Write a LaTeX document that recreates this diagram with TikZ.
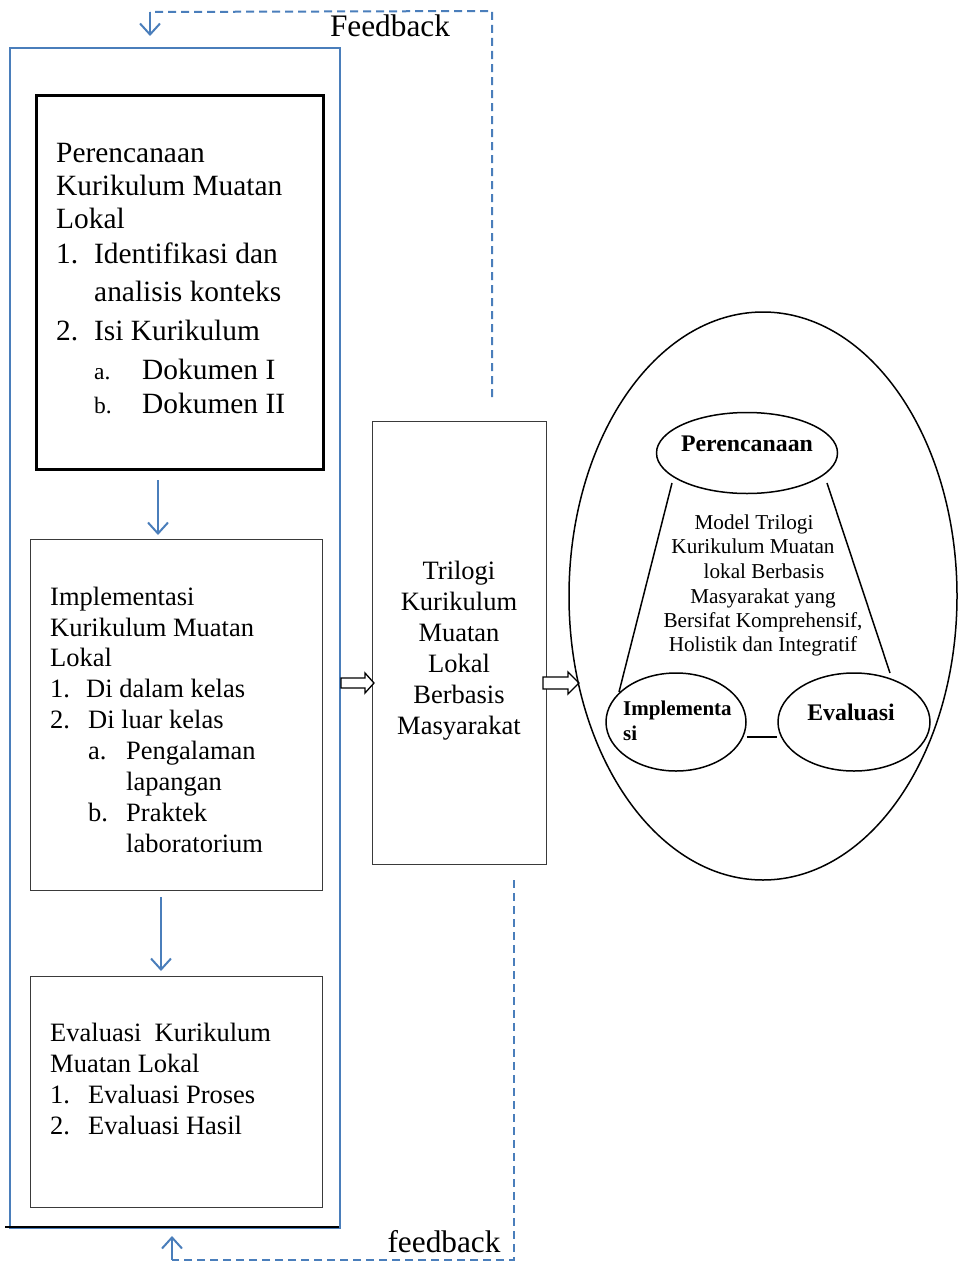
\documentclass[tikz,border=0pt]{standalone}
\usepackage{fontspec}
\setmainfont{Liberation Serif}
\usetikzlibrary{arrows.meta,shapes.geometric}
\definecolor{wblue}{HTML}{4A7EBB}
\definecolor{dgray}{HTML}{3A3A3A}
\tikzset{
  bluebox/.style={draw=wblue, line width=1.6pt},
  fbline/.style={draw=wblue, line width=2pt, dash pattern=on 8pt off 5pt},
  bluearrow/.style={draw=wblue, line width=2pt, -{Straight Barb[length=11pt,width=20pt]}},
  thinbox/.style={draw=dgray, line width=1.3pt, inner sep=0, anchor=north west},
  hollow/.style={draw=black, line width=1.3pt, fill=white},
  ell/.style={draw=black, line width=1.5pt, ellipse, inner sep=0},
  tA/.style={anchor=base west, inner sep=0, font=\fontsize{29.4}{33}\selectfont},
  tB/.style={anchor=base west, inner sep=0, font=\fontsize{26.5}{31}\selectfont},
  tS/.style={anchor=base west, inner sep=0, font=\fontsize{23.5}{28}\selectfont},
  tC/.style={anchor=base, inner sep=0, font=\fontsize{26.5}{31}\selectfont},
  tF/.style={anchor=base, inner sep=0, font=\fontsize{31.3}{34}\selectfont},
  tM/.style={anchor=base, inner sep=0, font=\fontsize{21.2}{24.5}\selectfont},
  tBold/.style={inner sep=0, font=\fontsize{23.8}{25}\selectfont\bfseries},
}
\begin{document}
\begin{tikzpicture}[x=1pt,y=-1pt]
\useasboundingbox (0,0) rectangle (965,1263);

% outer blue frame
\node[bluebox, inner sep=0, anchor=north west, minimum width=330, minimum height=1180] (outer) at (9,47) {};
\coordinate (obl) at (5,1227);
\coordinate (obr) at (339,1227);
\draw[black, line width=1.6pt] (obl) -- (obr);

% box 1
\node[draw=black, line width=3pt, inner sep=0, anchor=north west, minimum width=287, minimum height=374] (b1) at (35,94) {};
\node[tA] (p1) at (56,162) {Perencanaan};
\node[tA] (p2) at (56,195) {Kurikulum Muatan};
\node[tA] (p3) at (56,228) {Lokal};
\node[tA] (p4n) at (56,263) {1.};
\node[tA] (p4) at (94,263) {Identifikasi dan};
\node[tA] (p5) at (94,301) {analisis konteks};
\node[tA] (p6n) at (56,340) {2.};
\node[tA] (p6) at (94,340) {Isi Kurikulum};
\node[tS] (p7n) at (94,379) {a.};
\node[tA] (p7) at (142,379) {Dokumen I};
\node[tS] (p8n) at (94,413) {b.};
\node[tA] (p8) at (142,413) {Dokumen II};

% arrow 1
\coordinate (a1s) at (158,480);
\coordinate (a1e) at (158,535);
\draw[bluearrow] (a1s) -- (a1e);

% box 2
\node[thinbox, minimum width=292, minimum height=351] (b2) at (30,539) {};
\node[tB] (i1) at (50,605) {Implementasi};
\node[tB] (i2) at (50,636) {Kurikulum Muatan};
\node[tB] (i3) at (50,666) {Lokal};
\node[tB] (i4n) at (50,697) {1.};
\node[tB] (i4) at (86,697) {Di dalam kelas};
\node[tB] (i5n) at (50,728) {2.};
\node[tB] (i5) at (88,728) {Di luar kelas};
\node[tB] (i6n) at (88,759) {a.};
\node[tB] (i6) at (126,759) {Pengalaman};
\node[tB] (i7) at (126,790) {lapangan};
\node[tB] (i8n) at (88,821) {b.};
\node[tB] (i8) at (126,821) {Praktek};
\node[tB] (i9) at (126,852) {laboratorium};

% arrow 2
\coordinate (a2s) at (161,897);
\coordinate (a2e) at (161,971);
\draw[bluearrow] (a2s) -- (a2e);

% box 3
\node[thinbox, minimum width=292, minimum height=231] (b3) at (30,976) {};
\node[tB] (e1) at (50,1041) {Evaluasi\ \ Kurikulum};
\node[tB] (e2) at (50,1072) {Muatan Lokal};
\node[tB] (e3n) at (50,1103) {1.};
\node[tB] (e3) at (88,1103) {Evaluasi Proses};
\node[tB] (e4n) at (50,1134) {2.};
\node[tB] (e4) at (88,1134) {Evaluasi Hasil};

% trilogi box
\node[thinbox, minimum width=174, minimum height=443] (tri) at (372,421) {};
\node[tC] (c1) at (459,579) {Trilogi};
\node[tC] (c2) at (459,610) {Kurikulum};
\node[tC] (c3) at (459,641) {Muatan};
\node[tC] (c4) at (459,672) {Lokal};
\node[tC] (c5) at (459,703) {Berbasis};
\node[tC] (c6) at (459,734) {Masyarakat};

% hollow block arrows
\draw[hollow] (341,678) -- (365,678) -- (365,673) -- (374,683) -- (365,693) -- (365,688) -- (341,688) -- cycle;
\draw[hollow] (543,677) -- (568,677) -- (568,672) -- (579,683) -- (568,694) -- (568,689) -- (543,689) -- cycle;

% big ellipse and trilogy model
\node[ell, minimum width=388, minimum height=568] (big) at (763,596) {};
\node[ell, minimum width=181, minimum height=81] (ePer) at (747,453) {};
\node[ell, minimum width=140, minimum height=98] (eImp) at (676,722) {};
\node[ell, minimum width=152, minimum height=98] (eEva) at (854,722) {};
\node[tBold, anchor=base] (lPer) at (747,451) {Perencanaan};
\node[tBold, anchor=base] (lEva) at (851,720) {Evaluasi};
\node[tBold, anchor=base west, font=\fontsize{21}{25}\selectfont\bfseries] (lImp1) at (623,715) {Implementa};
\node[tBold, anchor=base west, font=\fontsize{21}{25}\selectfont\bfseries] (lImp2) at (623,740) {si};
\coordinate (l1a) at (672,483);
\coordinate (l1b) at (619,692);
\coordinate (l2a) at (827,483);
\coordinate (l2b) at (890,673);
\draw[line width=1.5pt] (l1a) -- (l1b);
\draw[line width=1.5pt] (l2a) -- (l2b);
\draw[line width=1.5pt] (eImp.east |- 0,737) -- (eEva.west |- 0,737);
\node[tM] (m1) at (754,529) {Model Trilogi};
\node[tM] (m2) at (753,553) {Kurikulum Muatan};
\node[tM] (m3) at (764,578) {lokal Berbasis};
\node[tM] (m4) at (763,603) {Masyarakat yang};
\node[tM] (m5) at (763,627) {Bersifat Komprehensif,};
\node[tM] (m6) at (763,651) {Holistik dan Integratif};

% feedback loops
\coordinate (f1a) at (492,397);
\coordinate (f1b) at (492,11);
\coordinate (f1c) at (150,12);
\coordinate (f1d) at (150,36);
\draw[fbline] (f1a) -- (f1b) -- (f1c);
\draw[bluearrow] (f1c) -- (f1d);
\node[tF] (fb1) at (390,37) {Feedback};

\coordinate (f2a) at (514,880);
\coordinate (f2b) at (514,1260);
\coordinate (f2c) at (172,1260);
\coordinate (f2d) at (172,1236);
\draw[fbline] (f2a) -- (f2b) -- (f2c);
\draw[bluearrow] (f2c) -- (f2d);
\node[tF] (fb2) at (444,1252) {feedback};
\end{tikzpicture}
\end{document}
